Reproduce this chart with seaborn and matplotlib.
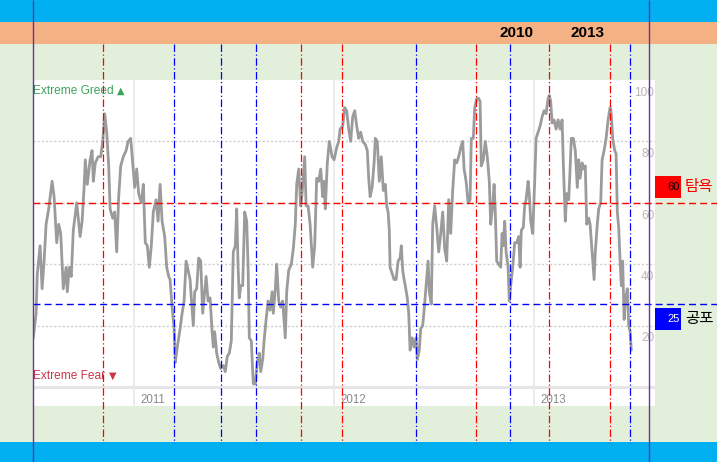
import numpy as np
import pandas as pd
import matplotlib
matplotlib.use("Agg")
import matplotlib.pyplot as plt
import seaborn as sns
from matplotlib import font_manager
from matplotlib.patches import Rectangle

# Fear & Greed index, x in decimal years
t = [2010.495, 2010.509, 2010.515, 2010.529, 2010.539, 2010.549, 2010.559, 2010.572, 2010.589, 2010.599,
     2010.612, 2010.622, 2010.632, 2010.645, 2010.659, 2010.665, 2010.675, 2010.685, 2010.695, 2010.712,
     2010.729, 2010.739, 2010.749, 2010.755, 2010.765, 2010.779, 2010.789, 2010.795, 2010.805, 2010.819,
     2010.832, 2010.842, 2010.852, 2010.862, 2010.872, 2010.879, 2010.892, 2010.902, 2010.912, 2010.922,
     2010.932, 2010.945, 2010.959, 2010.969, 2010.982, 2010.992, 2011.002, 2011.012, 2011.022, 2011.035,
     2011.045, 2011.055, 2011.065, 2011.075, 2011.085, 2011.095, 2011.109, 2011.119, 2011.129, 2011.139,
     2011.152, 2011.162, 2011.172, 2011.179, 2011.189, 2011.199, 2011.205, 2011.215, 2011.229, 2011.239,
     2011.249, 2011.259, 2011.269, 2011.279, 2011.285, 2011.295, 2011.302, 2011.312, 2011.322, 2011.332,
     2011.342, 2011.349, 2011.359, 2011.369, 2011.379, 2011.389, 2011.395, 2011.402, 2011.412, 2011.422,
     2011.432, 2011.445, 2011.455, 2011.465, 2011.475, 2011.485, 2011.495, 2011.505, 2011.512, 2011.519,
     2011.525, 2011.532, 2011.542, 2011.552, 2011.562, 2011.569, 2011.575, 2011.585, 2011.595, 2011.605,
     2011.615, 2011.625, 2011.632, 2011.642, 2011.649, 2011.659, 2011.669, 2011.679, 2011.689, 2011.695,
     2011.705, 2011.712, 2011.722, 2011.732, 2011.742, 2011.755, 2011.762, 2011.772, 2011.785, 2011.795,
     2011.805, 2011.812, 2011.822, 2011.832, 2011.839, 2011.852, 2011.859, 2011.869, 2011.879, 2011.892,
     2011.902, 2011.912, 2011.922, 2011.932, 2011.942, 2011.949, 2011.955, 2011.965, 2011.975, 2011.989,
     2011.999, 2012.012, 2012.022, 2012.029, 2012.042, 2012.052, 2012.062, 2012.072, 2012.082, 2012.092,
     2012.102, 2012.112, 2012.122, 2012.132, 2012.142, 2012.155, 2012.165, 2012.172, 2012.179, 2012.189,
     2012.199, 2012.205, 2012.215, 2012.225, 2012.235, 2012.245, 2012.255, 2012.262, 2012.269, 2012.275,
     2012.279, 2012.289, 2012.299, 2012.309, 2012.319, 2012.329, 2012.335, 2012.342, 2012.349, 2012.355,
     2012.365, 2012.372, 2012.379, 2012.389, 2012.399, 2012.409, 2012.415, 2012.425, 2012.432, 2012.442,
     2012.449, 2012.459, 2012.469, 2012.475, 2012.485, 2012.492, 2012.502, 2012.512, 2012.522, 2012.532,
     2012.542, 2012.552, 2012.562, 2012.572, 2012.582, 2012.592, 2012.602, 2012.612, 2012.622, 2012.632,
     2012.642, 2012.649, 2012.659, 2012.669, 2012.679, 2012.685, 2012.695, 2012.702, 2012.712, 2012.722,
     2012.729, 2012.735, 2012.745, 2012.755, 2012.765, 2012.775, 2012.782, 2012.792, 2012.799, 2012.805,
     2012.812, 2012.822, 2012.832, 2012.839, 2012.845, 2012.852, 2012.859, 2012.869, 2012.875, 2012.882,
     2012.892, 2012.902, 2012.912, 2012.922, 2012.929, 2012.935, 2012.945, 2012.952, 2012.959, 2012.969,
     2012.975, 2012.982, 2012.992, 2013.002, 2013.009, 2013.019, 2013.029, 2013.039, 2013.049, 2013.059,
     2013.069, 2013.075, 2013.082, 2013.089, 2013.099, 2013.109, 2013.119, 2013.129, 2013.139, 2013.145,
     2013.155, 2013.162, 2013.172, 2013.179, 2013.185, 2013.195, 2013.205, 2013.215, 2013.222, 2013.229,
     2013.239, 2013.245, 2013.255, 2013.262, 2013.272, 2013.279, 2013.289, 2013.299, 2013.305, 2013.315,
     2013.322, 2013.332, 2013.339, 2013.349, 2013.359, 2013.369, 2013.379, 2013.385, 2013.392, 2013.402,
     2013.409, 2013.415, 2013.422, 2013.429, 2013.435, 2013.442, 2013.449, 2013.455, 2013.465, 2013.472,
     2013.479, 2013.485]
v = [16, 24, 37, 46, 32, 41, 53, 58, 67, 62,
     47, 53, 50, 32, 39, 31, 39, 36, 51, 60,
     49, 54, 65, 74, 66, 74, 77, 67, 73, 75,
     75, 80, 89, 83, 72, 58, 55, 57, 44, 62,
     72, 75, 77, 80, 81, 73, 65, 71, 63, 60,
     66, 47, 46, 39, 46, 57, 61, 54, 66, 54,
     49, 39, 36, 35, 26, 19, 8, 13, 19, 24,
     28, 41, 38, 35, 29, 20, 31, 32, 42, 41,
     24, 29, 36, 28, 29, 18, 13, 18, 11, 8,
     6, 7, 5, 10, 11, 15, 44, 46, 58, 39,
     29, 33, 33, 57, 54, 39, 16, 15, 1, 1,
     8, 11, 5, 9, 15, 22, 28, 25, 31, 24,
     32, 40, 28, 26, 28, 16, 31, 38, 40, 45,
     53, 66, 71, 59, 63, 75, 59, 59, 53, 39,
     46, 68, 67, 71, 62, 67, 58, 73, 80, 75,
     74, 78, 80, 84, 85, 91, 90, 84, 80, 88,
     90, 85, 81, 83, 80, 79, 77, 68, 62, 65,
     73, 81, 80, 67, 75, 64, 66, 59, 57, 51,
     39, 37, 35, 35, 41, 42, 46, 38, 35, 33,
     29, 24, 12, 16, 13, 16, 9, 12, 19, 20,
     25, 33, 41, 31, 27, 53, 59, 52, 44, 50,
     57, 45, 41, 61, 50, 64, 74, 73, 75, 78,
     80, 71, 67, 60, 61, 81, 81, 91, 94, 94,
     93, 72, 74, 80, 75, 67, 53, 59, 66, 57,
     41, 40, 39, 50, 46, 54, 44, 39, 28, 33,
     39, 47, 47, 49, 39, 51, 52, 59, 61, 67,
     63, 54, 50, 67, 81, 83, 85, 88, 90, 89,
     94, 95, 93, 86, 87, 84, 87, 84, 87, 73,
     54, 63, 61, 71, 81, 81, 77, 65, 74, 68,
     73, 71, 72, 53, 55, 53, 44, 35, 44, 53,
     58, 60, 74, 77, 81, 87, 91, 89, 81, 77,
     76, 57, 52, 41, 33, 41, 22, 28, 32, 20,
     18, 12]

greed_events = [2010.845, 2011.835, 2012.040, 2012.710, 2013.075, 2013.380]
fear_events = [2011.200, 2011.435, 2011.607, 2012.410, 2012.880, 2013.480]
purple_marks = [2010.495, 2013.573]
year_ticks = [2011, 2012, 2013]
grid_levels = [20, 40, 60, 80]
value_labels = [20, 40, 60, 80, 100]
greed_level = 60
fear_level = 27
top_labels = ["2010", "2013"]
top_label_t = [2012.909, 2013.266]

W, H = 717, 462
GREEN = "#E2EFDA"
SKY = "#00B0F0"
PEACH = "#F4B183"
PURPLE = "#7030A0"

installed = {f.name for f in font_manager.fontManager.ttflist}
if "Liberation Sans Narrow" in installed:
    narrow = ["Liberation Sans Narrow", "DejaVu Sans"]
    narrow_size = 10
else:
    narrow = ["Liberation Sans", "DejaVu Sans"]
    narrow_size = 8.6
sans = ["Liberation Sans", "DejaVu Sans"]

sns.set_style("white")
fig = plt.figure(figsize=(W / 100, H / 100), dpi=100, facecolor=GREEN)

# white chart panel (px 33..655 wide, 80..406 tall)
ax_l, ax_r, ax_t, ax_b = 33.3, 655, 80, 406
ax = fig.add_axes([ax_l / W, 1 - ax_b / H, (ax_r - ax_l) / W, (ax_b - ax_t) / H], zorder=1)
ax.set_facecolor("white")
x0, x1 = 2010.495, 2013.6035
ax.set_xlim(x0, x1)
ax.set_ylim(-6.2, 100)
ax.set_xticks([])
ax.set_yticks([])
sns.despine(ax=ax, left=True, bottom=True)

for lv in grid_levels:
    ax.axhline(lv, color="#cfcfcf", lw=1, ls=(0, (1.5, 1.5)), zorder=1)
for yr in year_ticks:
    ax.axvline(yr, color="#ececec", lw=1.5, zorder=1)
    ax.text(yr + 0.03, -4.2, str(yr), color="#8a8a8a", fontsize=8.3,
            family=sans, va="center", ha="left")
ax.axhline(0, color="#e6e6e6", lw=2.2, zorder=1)
for lv in value_labels:
    ax.text(x1 - 0.003, lv - 4.2, str(lv), color="#b5b5b5", fontsize=8.5,
            family=sans, va="center", ha="right")

sns.lineplot(x=t, y=v, ax=ax, color="#9b9b9b", lw=2, zorder=3)

g_txt = ax.text(x0, 96.4, "Extreme Greed", color="#3da35d", fontsize=narrow_size,
                family=narrow, va="center", ha="left")
ax.annotate("\u25B2", xy=(1, 0.5), xycoords=g_txt, xytext=(2.5, 0), textcoords="offset points",
            color="#3da35d", fontsize=7, family=["DejaVu Sans"], va="center", ha="left")
f_txt = ax.text(x0, 3.6, "Extreme Fear", color="#c8374a", fontsize=narrow_size,
                family=narrow, va="center", ha="left")
ax.annotate("\u25BC", xy=(1, 0.5), xycoords=f_txt, xytext=(2.5, 0), textcoords="offset points",
            color="#c8374a", fontsize=7, family=["DejaVu Sans"], va="center", ha="left")

# greed / fear threshold lines run out to the right edge of the picture
xmax_frac = (W - ax_l) / (ax_r - ax_l)
ax.axhline(greed_level, xmin=0, xmax=xmax_frac, color="#FF0000", lw=1,
           ls=(0, (5, 3)), clip_on=False, zorder=4)
ax.axhline(fear_level, xmin=0, xmax=xmax_frac, color="#0000FF", lw=1,
           ls=(0, (5, 3)), clip_on=False, zorder=4)

# overlay across the whole picture, same time scale as the chart
ov = fig.add_axes([0, 0, 1, 1], zorder=2)
ov.axis("off")
px_per_year = (ax_r - ax_l) / (x1 - x0)
ov.set_xlim(x0 - ax_l / px_per_year, x0 + (W - ax_l) / px_per_year)
ov.set_ylim(H, 0)

ov.axhspan(0, 22, color=SKY, lw=0)
ov.axhspan(22, 44, color=PEACH, lw=0)
ov.axhspan(442, H, color=SKY, lw=0)

ov.vlines(greed_events, 44, 443, color="#FF0000", lw=0.9, linestyles=[(0, (6, 2, 1, 2))])
ov.vlines(fear_events, 44, 443, color="#0000FF", lw=0.9, linestyles=[(0, (6, 2, 1, 2))])
ov.vlines(purple_marks, 0, H, color=PURPLE, lw=1)

for lab, xt in zip(top_labels, top_label_t):
    ov.text(xt, 33, lab, fontsize=11, fontweight="bold", color="black",
            family=sans, ha="center", va="center")

# threshold tags on the right
fig.patches.append(Rectangle((655 / W, 1 - 198 / H), 26 / W, 22 / H,
                             transform=fig.transFigure, color="#FF0000", lw=0))
fig.patches.append(Rectangle((655 / W, 1 - 330 / H), 26 / W, 22 / H,
                             transform=fig.transFigure, color="#0000FF", lw=0))
fig.text(680 / W, 1 - 187 / H, "60", color="black", fontsize=8,
         family=sans, ha="right", va="center")
fig.text(680 / W, 1 - 319 / H, "25", color="white", fontsize=8,
         family=sans, ha="right", va="center")
fig.text(685 / W, 1 - 187 / H, "탐욕", color="#FF0000", fontsize=11.2,
         family=["Noto Sans CJK KR", "DejaVu Sans"], ha="left", va="center")
fig.text(685 / W, 1 - 319 / H, "공포", color="black", fontsize=11.2,
         family=["Noto Sans CJK KR", "DejaVu Sans"], ha="left", va="center")

fig.savefig("out.png", dpi=100, facecolor=GREEN)
